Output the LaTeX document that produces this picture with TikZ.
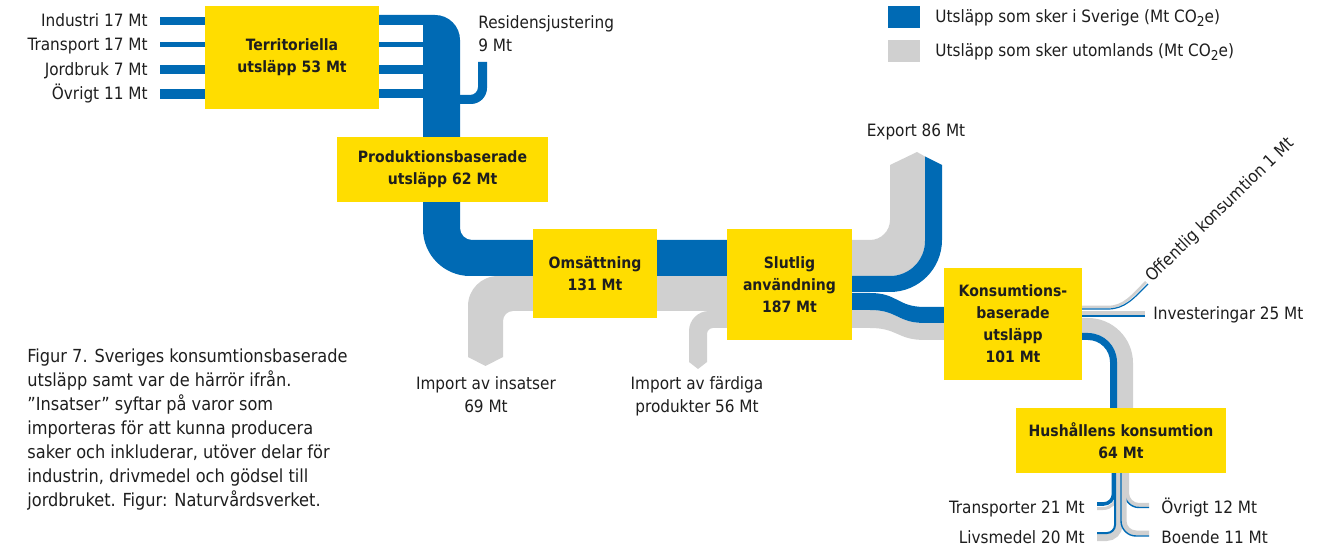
\documentclass[tikz,border=0pt]{standalone}
\usepackage{fontspec}
\setmainfont{DejaVu Sans Condensed}
\usetikzlibrary{positioning}

\definecolor{svblue}{RGB}{0,106,180}
\definecolor{svgray}{RGB}{208,208,208}
\definecolor{svyellow}{RGB}{255,221,0}
\definecolor{svtext}{RGB}{30,30,30}
\newcommand{\cotwo}{CO\raisebox{-0.35ex}{\fontsize{6.8}{7}\selectfont 2}e}

\begin{document}
\begin{tikzpicture}[x=0.5pt, y=-0.5pt, font=\fontsize{8.5}{11.5}\selectfont, text=svtext,
  box/.style={fill=svyellow, font=\fontsize{7.8}{11}\selectfont\bfseries, align=center, inner sep=0pt},
  lbl/.style={inner sep=0pt, text height=6.5pt, text depth=0.5pt},
  sverige/.style={fill=svblue},
  utland/.style={fill=svgray},
  sline/.style={draw=svblue},
  uline/.style={draw=svgray}]
\useasboundingbox (0,0) rectangle (1328,550);

% legend
\path (904,17) node[sverige, minimum width=16pt, minimum height=11pt] (sq1) {}
      (904,51) node[utland, minimum width=16pt, minimum height=11pt] (sq2) {}
      (935,17) node[lbl, anchor=west] (leg1) {Utsläpp som sker i Sverige (Mt \cotwo)}
      (935,51) node[lbl, anchor=west] (leg2) {Utsläpp som sker utomlands (Mt \cotwo)};

% input labels
\path (148,21) node[lbl, anchor=east] (ind) {Industri 17 Mt}
      (148,44.5) node[lbl, anchor=east] (tra) {Transport 17 Mt}
      (148,69.5) node[lbl, anchor=east] (jor) {Jordbruk 7 Mt}
      (148,94) node[lbl, anchor=east] (ovr) {Övrigt 11 Mt};
\coordinate (trunk) at (430,0);

% gray flows
\fill[utland] (468,357) -- (468,306) .. controls (468,289.4) and (481.4,276) .. (498,276) -- (727,276) -- (727,311)
   -- (513,311) .. controls (507.5,311) and (503,315.5) .. (503,321) -- (503,357) -- (485.5,366) -- cycle;
\fill[utland] (689,362) -- (689,331) .. controls (689,320) and (698,311) .. (709,311) -- (727,311) -- (727,328)
   -- (713,328) .. controls (709.7,328) and (707,330.7) .. (707,334) -- (707,362) -- (698,369) -- cycle;
\fill[utland] (800,240) -- (870,240) .. controls (881,240) and (890,231) .. (890,220) -- (890,165) -- (917,152)
   -- (925,156.5) -- (925,241) .. controls (925,260.3) and (909.3,276) .. (890,276) -- (800,276) -- cycle;
\fill[utland] (800,310) -- (870,310) .. controls (898,310) and (897,323) .. (925,323) -- (950,323) -- (950,340)
   -- (925,340) .. controls (897,340) and (898,328) .. (870,328) -- (800,328) -- cycle;
\fill[utland] (1070,318) -- (1088,318) .. controls (1112.8,318) and (1133,338.2) .. (1133,363) -- (1133,410)
   -- (1117,410) -- (1117,362) .. controls (1117,346) and (1104,333) .. (1088,333) -- (1070,333) -- cycle;
\fill[utland] (1070,311) rectangle (1145,315.5);

% blue flows
\fill[sverige] (379,15) -- (435,15) .. controls (448.8,15) and (460,26.2) .. (460,40) -- (460,228)
   .. controls (460,234.6) and (465.4,240) .. (472,240) -- (727,240) -- (727,276) -- (470,276)
   .. controls (444.1,276) and (423,254.9) .. (423,229) -- (423,25) -- (379,25) -- cycle;
\fill[sverige] (478,62) -- (487,62) -- (487,88) .. controls (487,96.8) and (479.8,104) .. (471,104) -- (455,104)
   -- (455,95) -- (470,95) .. controls (474.4,95) and (478,91.4) .. (478,87) -- cycle;
\fill[sverige] (800,276) -- (890,276) .. controls (909.3,276) and (925,260.3) .. (925,241) -- (925,156.5) -- (942,165)
   -- (942,240) .. controls (942,268.7) and (918.7,292) .. (890,292) -- (800,292) -- cycle;
\fill[sverige] (800,293) -- (870,293) .. controls (898,293) and (897,307) .. (925,307) -- (950,307) -- (950,323)
   -- (925,323) .. controls (897,323) and (898,310) .. (870,310) -- (800,310) -- cycle;
\fill[sverige] (1070,333) -- (1088,333) .. controls (1104,333) and (1117,346) .. (1117,362) -- (1117,410)
   -- (1110,410) -- (1110,362) .. controls (1110,349.9) and (1100.1,340) .. (1088,340) -- (1070,340) -- cycle;
\fill[sverige] (1070,315.5) rectangle (1145,317.5);

% offentlig konsumtion
\draw[uline, line width=1.3pt] (1070,307) -- (1108,307) .. controls (1124,307) and (1132,296) .. (1146,282);
\draw[sline, line width=0.6pt] (1070,309) -- (1108,309) .. controls (1125,309) and (1134,298) .. (1148,284);

% hushallens outputs
\draw[uline, line width=1.5pt, rounded corners=7pt] (1117,470) |- (1097,508.5);
\draw[sline, line width=1.8pt, rounded corners=5pt] (1113.5,470) |- (1097,504);
\draw[uline, line width=3.5pt, rounded corners=6.25pt] (1119,470) |- (1097,537.5);
\draw[sline, line width=1pt, rounded corners=4pt] (1115,470) |- (1097,533);
\draw[uline, line width=2pt, rounded corners=6pt] (1127,470) |- (1149,505);
\draw[sline, line width=0.7pt, rounded corners=7.25pt] (1124.5,470) |- (1149,507.5);
\draw[uline, line width=2.5pt, rounded corners=6pt] (1124,470) |- (1149,533);
\draw[sline, line width=0.7pt, rounded corners=7.5pt] (1121,470) |- (1149,536);

% boxes
\path (292,57.5) node[box, minimum width=87pt, minimum height=51.5pt] (terr) {Territoriella\\utsläpp 53 Mt}
      (442.5,169.5) node[box, minimum width=105.5pt, minimum height=32.5pt] (prod) {Produktionsbaserade\\utsläpp 62 Mt}
      (595,273.5) node[box, minimum width=62pt, minimum height=44.5pt] (oms) {Omsättning\\131 Mt}
      (789.5,284.5) node[box, minimum width=62.5pt, minimum height=55.5pt] (slut) {Slutlig\\användning\\187 Mt}
      (1013,324) node[box, minimum width=69pt, minimum height=56pt] (kons) {Konsumtions-\\baserade\\utsläpp\\101 Mt}
      (1121,440.5) node[box, minimum width=105pt, minimum height=32.5pt] (hush) {Hushållens konsumtion\\64 Mt};

% input bars
\draw[sline, line width=4pt] ([xshift=6pt]ind.east) -- (ind.east -| terr.west);
\draw[sline, line width=2.5pt] ([xshift=6pt]tra.east) -- (tra.east -| terr.west);
\draw[sline, line width=4.5pt] ([xshift=6pt]jor.east) -- (jor.east -| terr.west);
\draw[sline, line width=5pt] ([xshift=6pt]ovr.east) -- (ovr.east -| terr.west);
\draw[sline, line width=2.75pt] (tra.east -| terr.east) -- (tra.east -| trunk);
\draw[sline, line width=4.5pt] (jor.east -| terr.east) -- (jor.east -| trunk);
\draw[sline, line width=4.5pt] (ovr.east -| terr.east) -- (ovr.east -| trunk);

% labels
\path (478,15) node[anchor=north west, align=left, inner sep=0pt] (res) {Residensjustering\\9 Mt}
      (916,131) node[lbl] (exp) {Export 86 Mt}
      (486,388) node[anchor=north, align=center, inner sep=0pt, yshift=6pt] (imp1) {Import av insatser\\69 Mt}
      (697,388) node[anchor=north, align=center, inner sep=0pt, yshift=6pt] (imp2) {Import av färdiga\\produkter 56 Mt}
      (1153,314) node[lbl, anchor=west] (inv) {Investeringar 25 Mt}
      (1152,283) node[anchor=base west, rotate=44, inner sep=0pt] (off) {Offentlig konsumtion 1 Mt}
      (1085,508) node[lbl, anchor=east] (htra) {Transporter 21 Mt}
      (1085,537) node[lbl, anchor=east] (hliv) {Livsmedel 20 Mt}
      (1161,508) node[lbl, anchor=west] (hovr) {Övrigt 12 Mt}
      (1161,537) node[lbl, anchor=west] (hboe) {Boende 11 Mt};

\path (27,348) node[anchor=north west, align=left, inner sep=0pt, font=\fontsize{9}{12}\selectfont] (caption) {Figur 7. Sveriges konsumtionsbaserade\\utsläpp samt var de härrör ifrån.\\”Insatser” syftar på varor som\\importeras för att kunna producera\\saker och inkluderar, utöver delar för\\industrin, drivmedel och gödsel till\\jordbruket. Figur: Naturvårdsverket.};

\end{tikzpicture}
\end{document}
